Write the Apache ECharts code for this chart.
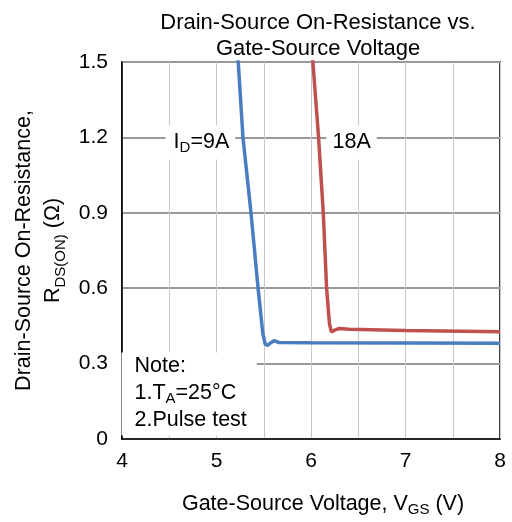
<!DOCTYPE html>
<html><head><meta charset="utf-8">
<script src="https://cdn.jsdelivr.net/npm/echarts@6/dist/echarts.min.js"></script>
<style>html,body{margin:0;padding:0;background:#fff}#c{width:512px;height:522px}</style>
</head><body><div id="c"></div>
<script>
// Blue curve, I_D = 9A
const vgs9 = [5.21, 5.23, 5.28, 5.365, 5.44, 5.49, 5.515, 5.54, 5.57, 5.61, 5.66, 6.0, 7.0, 8.0];
const rds9 = [1.55, 1.50, 1.20, 0.90, 0.60, 0.42, 0.378, 0.372, 0.382, 0.391, 0.384, 0.383, 0.382, 0.381];
// Red curve, I_D = 18A
const vgs18 = [6.01, 6.02, 6.08, 6.13, 6.165, 6.195, 6.215, 6.25, 6.30, 6.40, 7.0, 8.0];
const rds18 = [1.55, 1.50, 1.20, 0.90, 0.60, 0.46, 0.426, 0.433, 0.440, 0.437, 0.432, 0.427];
const xTicks = [4, 5, 6, 7, 8];
const yTicks = [0, 0.3, 0.6, 0.9, 1.2, 1.5];

const FONT = "'Liberation Sans', Arial, sans-serif";
const pairs = (xs, ys) => xs.map((x, i) => [x, ys[i]]);
const chart = echarts.init(document.getElementById('c'));
chart.setOption({
  animation: false,
  backgroundColor: '#fff',
  title: {
    text: 'Drain-Source On-Resistance vs.\nGate-Source Voltage',
    left: 313, top: 5, textAlign: 'center',
    textStyle: { fontFamily: FONT, fontSize: 22, fontWeight: 'normal', color: '#000', lineHeight: 26 }
  },
  grid: { left: 122, right: 12, top: 62, bottom: 81, show: true, borderColor: '#000', borderWidth: 1.5 },
  xAxis: {
    type: 'value', min: 4, max: 8, interval: 0.5,
    axisLine: { lineStyle: { color: '#000', width: 1.5 } },
    axisTick: { show: false },
    axisLabel: {
      fontFamily: FONT, fontSize: 21, color: '#000', margin: 12,
      formatter: v => (xTicks.indexOf(v) >= 0 ? String(v) : '')
    },
    splitLine: { show: true, lineStyle: { color: '#c8c8c8', width: 1 } },
    name: '{n|Gate-Source Voltage, V}{s|GS}{n| (V)}',
    nameLocation: 'middle', nameGap: 52,
    nameTextStyle: {
      padding: [0, 0, 0, 24],
      rich: {
        n: { fontFamily: FONT, fontSize: 21.5, color: '#000', lineHeight: 26 },
        s: { fontFamily: FONT, fontSize: 15, color: '#000', lineHeight: 26, verticalAlign: 'bottom', padding: [6, 0, 0, 0] }
      }
    }
  },
  yAxis: {
    type: 'value', min: 0, max: 1.5, interval: 0.3,
    axisLine: { show: true, lineStyle: { color: '#000', width: 1.5 } },
    axisTick: { show: false },
    axisLabel: {
      fontFamily: FONT, fontSize: 21, color: '#000', margin: 14,
      formatter: v => { const t = yTicks.find(k => Math.abs(k - v) < 1e-6); return t === 0 ? '0' : t.toFixed(1); }
    },
    splitLine: { show: true, lineStyle: { color: '#999', width: 1.8 } },
    name: '{n|Drain-Source On-Resistance,}\n{n|R}{s|DS(ON)}{n| (Ω)}',
    nameLocation: 'middle', nameRotate: 90, nameGap: 50,
    nameTextStyle: {
      rich: {
        n: { fontFamily: FONT, fontSize: 21.5, color: '#000', lineHeight: 29 },
        s: { fontFamily: FONT, fontSize: 15, color: '#000', lineHeight: 29, verticalAlign: 'bottom', padding: [6, 0, 0, 0] }
      }
    }
  },
  series: [
    {
      type: 'line', data: pairs(vgs9, rds9), showSymbol: false,
      lineStyle: { color: '#4a7cc0', width: 3.5 }, z: 3,
      markPoint: {
        symbol: 'rect', symbolSize: 1, itemStyle: { color: 'rgba(0,0,0,0)' }, z: 5,
        data: [
          { coord: [4.83, 1.18], label: {
              show: true, position: 'inside', formatter: '{b|I}{s|D}{b|=9A}',
              backgroundColor: '#fff', padding: [4, 6, 4, 8],
              rich: {
                b: { fontFamily: FONT, fontSize: 21.5, color: '#000', lineHeight: 26 },
                s: { fontFamily: FONT, fontSize: 15, color: '#000', lineHeight: 26, verticalAlign: 'bottom', padding: [6, 0, 0, 0] }
              } } },
          { coord: [4.0, 0.342], label: {
              show: true, position: [0, 0], align: 'left', verticalAlign: 'top',
              formatter: '{n|Note:}\n{n|1.T}{s|A}{n|=25°C}\n{n|2.Pulse test}',
              backgroundColor: '#fff', padding: [0, 10, 2, 13],
              rich: {
                n: { fontFamily: FONT, fontSize: 21.5, color: '#000', lineHeight: 27 },
                s: { fontFamily: FONT, fontSize: 15, color: '#000', lineHeight: 27, verticalAlign: 'bottom', padding: [6, 0, 0, 0] }
              } } }
        ]
      }
    },
    {
      type: 'line', data: pairs(vgs18, rds18), showSymbol: false,
      lineStyle: { color: '#c0504d', width: 3.5 }, z: 3,
      markPoint: {
        symbol: 'rect', symbolSize: 1, itemStyle: { color: 'rgba(0,0,0,0)' }, z: 5,
        data: [
          { coord: [6.43, 1.18], label: {
              show: true, position: 'inside', formatter: '18A',
              backgroundColor: '#fff', padding: [4, 6, 4, 6],
              fontFamily: FONT, fontSize: 21.5, color: '#000', lineHeight: 26 } }
        ]
      }
    }
  ]
});
</script></body></html>
